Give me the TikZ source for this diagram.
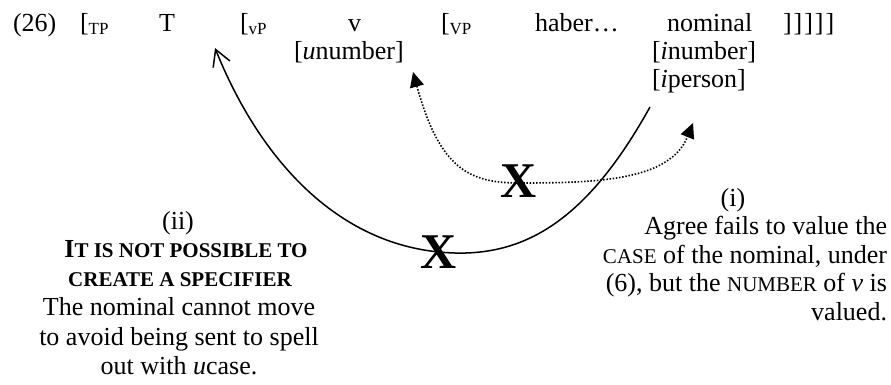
\documentclass[tikz,border=0pt]{standalone}
\usepackage{fontspec}
\setmainfont{Liberation Serif}
\usetikzlibrary{arrows.meta}
\newcommand\mysub[1]{\raisebox{-3pt}{\fontsize{17}{17}\selectfont #1}}
\newcommand\fsc[1]{{\fontsize{21}{21}\selectfont #1}}
\tikzset{
  txt/.style={inner sep=0pt, outer sep=0pt, font=\fontsize{26}{28}\selectfont},
  lb/.style={txt, anchor=base west},
  cb/.style={txt, anchor=base},
  rb/.style={txt, anchor=base east},
  xm/.style={inner sep=0pt, outer sep=0pt, font=\fontsize{50}{50}\selectfont\bfseries},
  movearrow/.style={line width=1.5pt, -{Straight Barb[length=16pt,width=18pt,line width=1.5pt]}},
  agreearrow/.style={line width=1.6pt, dash pattern=on 1.5pt off 1.7pt,
     {Triangle[length=15pt,width=14pt]}-{Triangle[length=15pt,width=14pt]}}
}
\begin{document}
\begin{tikzpicture}[x=1pt,y=-1pt]
\useasboundingbox (0,0) rectangle (891,384);
% top row
\node[lb] (n26) at (13,31) {(26)};
\node[lb] (tpb) at (80,31) {[\mysub{TP}};
\node[lb] (T) at (159,31) {T};
\node[lb] (vpb) at (240,31) {[\mysub{vP}};
\node[lb] (v) at (348,31) {v};
\node[lb] (VPb) at (441,31) {[\mysub{VP}};
\node[lb] (haber) at (535,31) {haber…};
\node[lb] (nom) at (667,31) {nominal};
\node[lb] (br) at (783,31) {]\kern2pt]\kern2pt]\kern2pt]\kern2pt]};
% features
\node[lb] (un) at (294,59) {[\textit{u}number]};
\node[lb] (in) at (652,59) {[\textit{i}number]};
\node[lb] (ip) at (652,87) {[\textit{i}person]};
% curves
\coordinate (s0) at (650,107);
\coordinate (s1) at (455,253);
\coordinate (s2) at (215,48);
\draw[movearrow] (s0) .. controls (590,215) and (530,255) .. (s1)
   .. controls (340,250) and (260,160) .. (s2);
\coordinate (d0) at (413,72);
\coordinate (d1) at (520,183);
\coordinate (d2) at (693,123);
\draw[agreearrow] (d0) .. controls (440,170) and (470,183) .. (d1)
   .. controls (600,183) and (670,180) .. (d2);
% X marks
\node[xm] (x1) at (519,181) {X};
\node[xm] (x2) at (439,252) {X};
% left block
\node[cb] (ii) at (178,229) {(ii)};
\node[cb] (ii1) at (186,257) {\bfseries I\fsc{T IS NOT POSSIBLE TO}};
\node[cb] (ii2) at (180,286.5) {\bfseries\fsc{CREATE A SPECIFIER}};
\node[cb] (ii3) at (179,315.5) {The nominal cannot move};
\node[cb] (ii4) at (179,345) {to avoid being sent to spell};
\node[cb] (ii5) at (179,374) {out with \textit{u}case.};
% right block
\node[cb] (i) at (733,206) {(i)};
\node[rb] (i1) at (887,234.5) {Agree fails to value the};
\node[rb] (i2) at (887,263) {\fsc{CASE} of the nominal, under};
\node[rb] (i3) at (887,291.5) {(6), but the \fsc{NUMBER} of \textit{v} is};
\node[rb] (i4) at (887,320) {valued.};
\end{tikzpicture}
\end{document}
